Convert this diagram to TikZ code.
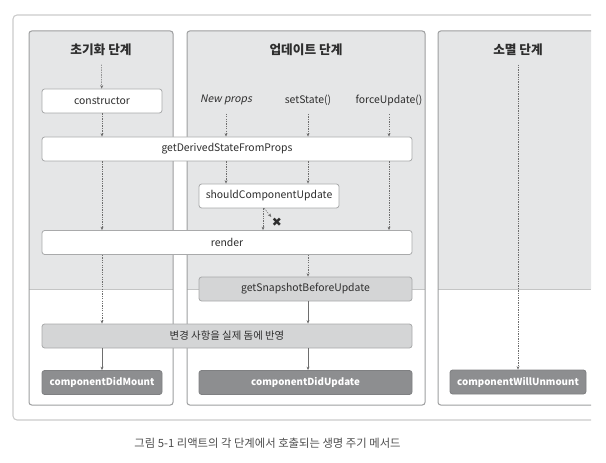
\documentclass[tikz,border=0pt]{standalone}
\usepackage{fontspec}
\setmainfont{Noto Sans CJK KR}
\newfontfamily\slantfont[FakeSlant=0.2]{Noto Sans CJK KR}
\newfontfamily\symfont{DejaVu Sans}
\usetikzlibrary{arrows.meta}

\definecolor{panelgray}{HTML}{E5E6E7}
\definecolor{paneledge}{HTML}{9D9E9F}
\definecolor{frameedge}{HTML}{CBCBCB}
\definecolor{boxedge}{HTML}{A9AAAB}
\definecolor{midgray}{HTML}{D4D5D6}
\definecolor{darkfill}{HTML}{8D8E90}
\definecolor{darkedge}{HTML}{7F8082}
\definecolor{textdark}{HTML}{2E2E2E}
\definecolor{arrowgray}{HTML}{6E6E6E}

\tikzset{
  phase/.style={font=\fontsize{9.5}{11}\selectfont\bfseries, text=textdark},
  trigger/.style={font=\fontsize{7.8}{10}\selectfont, text=textdark},
  callbox/.style={draw=boxedge, fill=white, rounded corners=2pt, line width=0.6pt,
    minimum height=18pt, inner sep=0pt, font=\fontsize{7.8}{10}\selectfont, text=textdark},
  midbox/.style={callbox, fill=midgray},
  donebox/.style={callbox, draw=darkedge, fill=darkfill, text=white,
    font=\fontsize{7.3}{10}\selectfont\bfseries},
  flow/.style={draw=arrowgray, line width=0.4pt, dash pattern=on 1pt off 0.8pt,
    -{Stealth[length=2.6pt,width=2.2pt]}},
  solidflow/.style={draw=arrowgray, line width=0.5pt, -{Stealth[length=2.6pt,width=2.2pt]}},
}

\begin{document}
\begin{tikzpicture}[x=0.75pt, y=-0.75pt]
        \useasboundingbox (0,0) rectangle (606,463);
        \draw[frameedge, line width=0.8pt, rounded corners=3pt] (591,15) -- (13,15) -- (13,420) -- (591,420);
        \foreach \l/\r in {29/173, 187/425} {
            \fill[panelgray] (\l,289) [rounded corners=2pt] -- (\l,31) -- (\r,31) [sharp corners] -- (\r,289) -- cycle;
            \draw[paneledge!60, line width=0.4pt] (\l,289) -- (\r,289);
            \draw[paneledge, line width=0.75pt, rounded corners=2pt] (\l,31) rectangle (\r,405);
        }
        \fill[panelgray] (438,289) [rounded corners=2pt] -- (438,31) [sharp corners] -- (591,31) -- (591,289) -- cycle;
        \draw[paneledge!60, line width=0.4pt] (438,289) -- (591,289);
        \draw[paneledge, line width=0.75pt, rounded corners=2pt] (591,31) -- (438,31) -- (438,405) -- (591,405);

        \node[phase] (mount) at (101,50) {초기화 단계};
        \node[phase] (update) at (306,50) {업데이트 단계};
        \node[phase] (unmount) at (518,50) {소멸 단계};

        \node[trigger] (props) at (226,100) {\slantfont New props};
        \node[trigger] (setst) at (308,100) {setState()};
        \node[trigger] (force) at (389,100) {forceUpdate()};

        \node[callbox, minimum width=90pt] (ctor) at (102,101) {constructor};
        \node[callbox, minimum width=277.5pt] (gdsfp) at (227,149) {getDerivedStateFromProps};
        \node[callbox, minimum width=105pt] (scu) at (269,196) {shouldComponentUpdate};
        \node[callbox, minimum width=277.5pt] (render) at (227,242.5) {render};
        \node[midbox, minimum width=159.75pt] (snap) at (305.5,289) {getSnapshotBeforeUpdate};
        \node[midbox, minimum width=277.5pt] (commit) at (227,336) {변경 사항을 실제 돔에 반영};
        \node[donebox, minimum width=90pt] (didmount) at (102,382.5) {componentDidMount};
        \node[donebox, minimum width=159.75pt] (didupdate) at (305.5,382.5) {componentDidUpdate};
        \node[donebox, minimum width=102pt] (willunmount) at (518,382) {componentWillUnmount};
        \node[text=textdark, inner sep=0pt, font=\symfont\fontsize{9}{10}\selectfont] (nope) at (277,222) {✖};

        \draw[flow, shorten <=3pt] (mount) -- (ctor);
        \draw[flow] (ctor) -- (gdsfp.north -| ctor);
        \draw[flow] (gdsfp.south -| ctor) -- (render.north -| ctor);
        \draw[flow] (render.south -| ctor) -- (commit.north -| ctor);
        \draw[solidflow] (commit.south -| ctor) -- (didmount);

        \draw[flow, shorten <=3pt] (props) -- (gdsfp.north -| props);
        \draw[flow, shorten <=3pt] (setst) -- (gdsfp.north -| setst);
        \draw[flow, shorten <=3pt] (force) -- (gdsfp.north -| force);
        \draw[flow] (gdsfp.south -| props) -- (scu.north -| props);
        \draw[flow] (gdsfp.south -| setst) -- (scu.north -| setst);
        \draw[flow] (gdsfp.south -| force) -- (render.north -| force);
        \draw[flow] ([xshift=-4.5pt]scu.south) -- ([xshift=-4.5pt]scu.south |- render.north);
        \draw[flow, shorten >=0.5pt] ([xshift=-3.5pt]scu.south) -- (nope.north west);
        \draw[flow] (render.south -| setst) -- (snap.north -| setst);
        \draw[solidflow] (snap.south -| setst) -- (commit.north -| setst);
        \draw[solidflow] (commit.south -| setst) -- (didupdate.north -| setst);

        \draw[flow, shorten <=3pt] (unmount) -- (willunmount);

        \node[text=textdark!85, font=\fontsize{8.5}{10}\selectfont] (caption) at (267.5,443) {그림 5-1 리액트의 각 단계에서 호출되는 생명 주기 메서드};
    \end{tikzpicture}
\end{document}
